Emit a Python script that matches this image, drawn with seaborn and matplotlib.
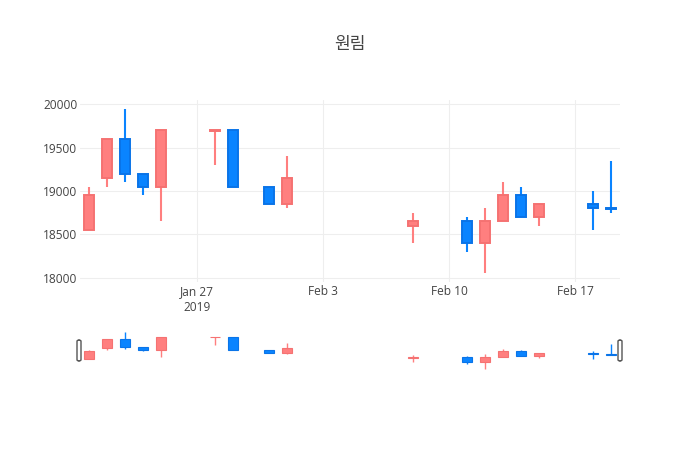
import matplotlib
matplotlib.use('Agg')
import matplotlib.pyplot as plt
import matplotlib.dates as mdates
from matplotlib.patches import FancyBboxPatch
import numpy as np
import pandas as pd
import seaborn as sns

# 일봉 데이터
dates = ['2019-01-21', '2019-01-22', '2019-01-23', '2019-01-24', '2019-01-25',
         '2019-01-28', '2019-01-29', '2019-01-31', '2019-02-01', '2019-02-08',
         '2019-02-11', '2019-02-12', '2019-02-13', '2019-02-14', '2019-02-15',
         '2019-02-18', '2019-02-19']
open_ = [18550, 19150, 19600, 19200, 19050, 19690, 19700, 19050, 18850, 18600,
         18650, 18400, 18650, 18950, 18700, 18850, 18800]
high = [19050, 19600, 19950, 19200, 19700, 19700, 19700, 19050, 19400, 18750,
        18700, 18800, 19100, 19050, 18850, 19000, 19350]
low = [18550, 19050, 19100, 18950, 18650, 19300, 19050, 18850, 18800, 18400,
       18300, 18050, 18650, 18700, 18600, 18550, 18750]
close = [18950, 19600, 19200, 19050, 19700, 19700, 19050, 18850, 19150, 18650,
         18400, 18650, 18950, 18700, 18850, 18800, 18790]
yticks = [18000, 18500, 19000, 19500, 20000]
xtick_dates = ['2019-01-27', '2019-02-03', '2019-02-10', '2019-02-17']
xtick_labels = ['Jan 27\n2019', 'Feb 3', 'Feb 10', 'Feb 17']
title = '원림'

sns.set_theme(style='whitegrid')
plt.rcParams['font.family'] = ['Open Sans', 'Noto Sans CJK KR', 'DejaVu Sans']

df = pd.DataFrame({'date': pd.to_datetime(dates), 'open': open_, 'high': high,
                   'low': low, 'close': close})
df['x'] = mdates.date2num(df['date'])
df['dir'] = np.where(df['close'] >= df['open'], 'up', 'down')

# 꼬리(저가~고가)는 seaborn lineplot으로
wicks = pd.concat([df[['x', 'dir']].assign(price=df['low']),
                   df[['x', 'dir']].assign(price=df['high'])])
wicks['unit'] = wicks['x']

colors = {'up': '#ff7f7f', 'down': '#0a84ff'}
edges = {'up': '#f57272', 'down': '#0a74e8'}


def draw(ax, lw, wick_lw):
    sns.lineplot(data=wicks, x='x', y='price', hue='dir', units='unit',
                 estimator=None, palette=colors, linewidth=wick_lw,
                 legend=False, ax=ax, zorder=2, solid_capstyle='butt')
    ax.bar(df['x'], df['close'] - df['open'], bottom=df['open'], width=0.6,
           color=df['dir'].map(colors), edgecolor=df['dir'].map(edges),
           linewidth=lw, zorder=3)


xmin = mdates.date2num(pd.Timestamp('2019-01-20')) + 0.5
xmax = mdates.date2num(pd.Timestamp('2019-02-19')) + 0.5

fig = plt.figure(figsize=(7, 4.5), dpi=100)

ax = fig.add_axes([80 / 700, 1 - 282 / 450, 540 / 700, 182 / 450])
draw(ax, 1.4, 1.5)
ax.set_xlim(xmin, xmax)
ax.set_ylim(17950, 20050)
ax.set_yticks(yticks)
ax.set_yticklabels([str(v) for v in yticks])
ax.set_xticks(mdates.date2num(pd.to_datetime(xtick_dates)))
ax.set_xticklabels(xtick_labels, linespacing=1.3)
ax.tick_params(labelsize=8.6, colors='#444444', length=0)
ax.tick_params(axis='y', pad=2)
ax.tick_params(axis='x', pad=2)
ax.grid(True, color='#eeeeee', linewidth=0.8)
ax.set_facecolor('white')
for s in ax.spines.values():
    s.set_visible(False)
ax.set_xlabel('')
ax.set_ylabel('')

# 레인지 슬라이더
sl = fig.add_axes([80 / 700, 1 - 371 / 450, 540 / 700, 41 / 450])
draw(sl, 0.8, 1.0)
sl.set_xlim(xmin, xmax)
sl.set_ylim(17955, 20045)
sl.axis('off')

for hx in [77, 618]:
    fig.patches.append(FancyBboxPatch(
        (hx / 700, 1 - 361 / 450), 4 / 700, 21 / 450,
        boxstyle='round,pad=0,rounding_size=0.003', transform=fig.transFigure,
        facecolor='white', edgecolor='#555555', linewidth=1.0, zorder=5))

fig.text(0.5, 1 - 44 / 450, title, ha='center', va='center', fontsize=12.3,
         color='#444444', family=['Noto Sans CJK KR', 'DejaVu Sans'])

fig.savefig('out.png', dpi=100)
